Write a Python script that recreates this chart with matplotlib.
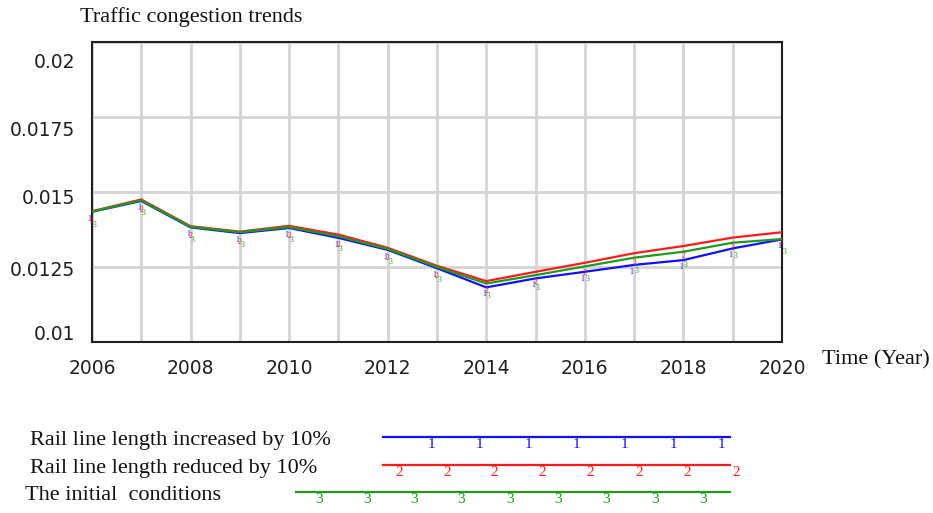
import matplotlib
matplotlib.use("Agg")
import matplotlib.pyplot as plt
import matplotlib.transforms as mtransforms
import numpy as np

# data
years = list(range(2006, 2021))
increased = [0.01434, 0.01470, 0.01382, 0.01363, 0.01380, 0.01347, 0.01307, 0.01246,
             0.01182, 0.01212, 0.01234, 0.01257, 0.01273, 0.01312, 0.01342]
reduced = [0.01436, 0.01475, 0.01386, 0.01368, 0.01387, 0.01358, 0.01314, 0.01254,
           0.01203, 0.01234, 0.01264, 0.01296, 0.01320, 0.01348, 0.01366]
initial = [0.01435, 0.01472, 0.01384, 0.01366, 0.01383, 0.01352, 0.01310, 0.01250,
           0.01195, 0.01223, 0.01252, 0.01281, 0.01301, 0.01331, 0.01343]

series = [
    ("Rail line length increased by 10%", increased, "#1010ff", "1"),
    ("Rail line length reduced by 10%", reduced, "#ff1a1a", "2"),
    ("The initial  conditions", initial, "#1f9a1f", "3"),
]

yticks = [0.01, 0.0125, 0.015, 0.0175, 0.02]
ytick_labels = ["0.01", "0.0125", "0.015", "0.0175", "0.02"]
xticks = list(range(2006, 2021, 2))

serif = "Liberation Serif"
sans = "DejaVu Sans"

W, H = 933, 513
fig = plt.figure(figsize=(W / 100, H / 100), dpi=100)
ax = fig.add_axes([92 / W, (H - 342) / H, 690 / W, 300 / H])

ax.set_xlim(2006, 2020)
ax.set_ylim(0.01, 0.02)
ax.set_xticks(years, minor=True)
ax.set_xticks(xticks, [str(x) for x in xticks])
ax.set_yticks(yticks, ytick_labels)
ax.grid(True, which="both", axis="x", color="#d4d4d4", lw=2)
ax.grid(True, which="major", axis="y", color="#d4d4d4", lw=2)
ax.tick_params(which="both", length=0)
ax.tick_params(axis="y", pad=12, labelsize=13.5)
ax.tick_params(axis="x", pad=12, labelsize=13.5)
for lab in ax.get_xticklabels() + ax.get_yticklabels():
    lab.set_fontfamily(sans)
    lab.set_color("#202020")

# shift y labels the way the original spaces them
offsets = [10, -2, -4, -11, -18]
for lab, dy in zip(ax.get_yticklabels(), offsets):
    lab.set_transform(lab.get_transform() +
                      mtransforms.ScaledTranslation(0, dy / 100, fig.dpi_scale_trans))

for sp in ax.spines.values():
    sp.set_color("#202020")
    sp.set_linewidth(1.5)

for name, vals, col, mk in series:
    ax.plot(years, vals, color=col, lw=1.6, zorder=3)
# small number markers hanging under each line
for k, (name, vals, col, mk) in enumerate(series):
    for x, v in zip(years, vals):
        ax.text(x + 0.05 * (k - 1), v - 0.0001 - 0.0001 * k, mk, color=col,
                fontsize=5.5, fontfamily=serif, ha="center", va="top", zorder=4)

fig.text(80 / W, 1 - 17 / H, "Traffic congestion trends", fontfamily=serif,
         fontsize=16, ha="left", va="center", color="#111111")
fig.text(822 / W, 1 - 360 / H, "Time (Year)", fontfamily=serif,
         fontsize=16, ha="left", va="center", color="#111111")

# legend drawn in pixel space
lg = fig.add_axes([0, 0, 1, 1], zorder=-1)
lg.set_xlim(0, W)
lg.set_ylim(H, 0)
lg.axis("off")
leg_rows = [
    (30, 437, 383, 730, [431, 479, 528, 576, 624, 673, 721]),
    (30, 465, 383, 730, [399, 447, 494, 542, 590, 639, 687, 736]),
    (25, 492, 296, 730, [319, 367, 414, 461, 510, 558, 606, 655, 703]),
]
for (name, vals, col, mk), (tx, ty, x0, x1, mxs) in zip(series, leg_rows):
    lg.text(tx, ty + 3, name, fontfamily=serif, fontsize=16, ha="left", va="center",
            color="#111111")
    lg.plot([x0, x1], [ty, ty], color=col, lw=1.6)
    for mx in mxs:
        lg.text(mx, ty + 1, mk, color=col, fontsize=11, fontfamily=serif,
                ha="center", va="top")

fig.savefig("out.png", dpi=100)
